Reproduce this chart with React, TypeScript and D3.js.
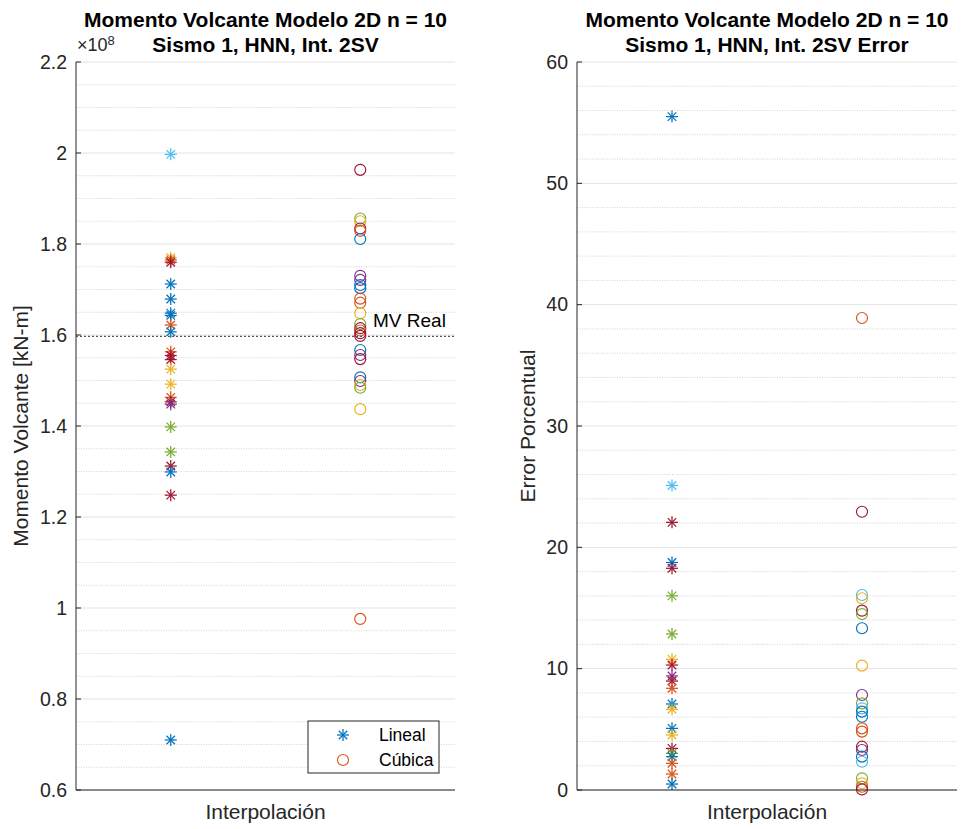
import React from 'react';
import * as d3 from 'd3';

// MATLAB default colour order
const PALETTE: Record<string, string> = {
  B: '#0072BD', O: '#D95319', Y: '#EDB120', P: '#7E2F8E', G: '#77AC30', LB: '#4DBEEE', R: '#A2142F',
};

// Left panel: Momento Volcante (x 1e8 kN-m)
const linealValues = [1.997, 1.770, 1.765, 1.760, 1.712, 1.679, 1.648, 1.643, 1.622, 1.607, 1.563, 1.555, 1.546, 1.525, 1.492, 1.463, 1.453, 1.448, 1.398, 1.343, 1.312, 1.299, 1.248, 0.710];
const linealColors = ['LB', 'Y', 'O', 'R', 'B', 'B', 'B', 'B', 'O', 'B', 'O', 'R', 'R', 'Y', 'Y', 'O', 'R', 'P', 'G', 'G', 'R', 'B', 'R', 'B'];
const cubicaValues = [1.963, 1.856, 1.850, 1.834, 1.829, 1.811, 1.730, 1.721, 1.710, 1.703, 1.680, 1.671, 1.648, 1.624, 1.615, 1.610, 1.604, 1.598, 1.567, 1.556, 1.547, 1.507, 1.499, 1.490, 1.484, 1.437, 0.976];
const cubicaColors = ['R', 'G', 'Y', 'R', 'O', 'B', 'P', 'P', 'B', 'B', 'O', 'O', 'Y', 'G', 'R', 'O', 'R', 'R', 'B', 'P', 'R', 'B', 'P', 'Y', 'G', 'Y', 'O'];
const mvReal = 1.597;

// Right panel: Error Porcentual
const linealErrors = [55.5, 25.1, 22.06, 18.75, 18.27, 16.0, 12.86, 10.77, 10.3, 9.4, 8.98, 8.38, 7.09, 6.65, 5.08, 4.53, 3.43, 3.02, 2.75, 2.2, 1.32, 0.49];
const linealErrorColors = ['B', 'LB', 'R', 'B', 'R', 'G', 'G', 'Y', 'R', 'P', 'R', 'O', 'B', 'Y', 'B', 'Y', 'R', 'G', 'B', 'O', 'O', 'B'];
const cubicaErrors = [38.9, 22.93, 16.07, 15.8, 14.78, 14.5, 13.33, 10.25, 7.83, 7.14, 6.73, 6.46, 6.04, 5.08, 4.81, 3.57, 3.30, 2.75, 2.33, 0.96, 0.55, 0.27, 0.05];
const cubicaErrorColors = ['O', 'R', 'LB', 'Y', 'R', 'G', 'B', 'Y', 'P', 'G', 'LB', 'B', 'B', 'O', 'O', 'R', 'P', 'B', 'LB', 'G', 'Y', 'O', 'R'];

const leftTicks = [0.6, 0.8, 1, 1.2, 1.4, 1.6, 1.8, 2, 2.2];
const rightTicks = [0, 10, 20, 30, 40, 50, 60];
const titleLine1 = 'Momento Volcante Modelo 2D n = 10';
const leftTitle2 = 'Sismo 1, HNN, Int. 2SV';
const rightTitle2 = 'Sismo 1, HNN, Int. 2SV Error';
const xLabel = 'Interpolación';
const leftYLabel = 'Momento Volcante [kN-m]';
const rightYLabel = 'Error Porcentual';
const legendLabels = ['Lineal', 'Cúbica'];

const FONT = 'Liberation Sans, Arial, Helvetica, sans-serif';
const AX = '#262626';

function Star({ x, y, color, r = 6 }: { x: number; y: number; color: string; r?: number }) {
  const d = r * Math.SQRT1_2;
  return (
    <g stroke={color} strokeWidth={1.25} fill="none">
      <line x1={x - r} y1={y} x2={x + r} y2={y} />
      <line x1={x} y1={y - r} x2={x} y2={y + r} />
      <line x1={x - d} y1={y - d} x2={x + d} y2={y + d} />
      <line x1={x - d} y1={y + d} x2={x + d} y2={y - d} />
    </g>
  );
}

function Circle({ x, y, color }: { x: number; y: number; color: string }) {
  return <circle cx={x} cy={y} r={5.5} fill="none" stroke={color} strokeWidth={1.15} />;
}

type PanelProps = {
  x0: number; x1: number; y0: number; y1: number;
  domain: [number, number]; ticks: number[]; minorStep: number;
  starVals: number[]; starCols: string[]; circVals: number[]; circCols: string[];
  title2: string; yLabel: string; yLabelX: number; children?: React.ReactNode;
};

function Panel(p: PanelProps) {
  const y = d3.scaleLinear().domain(p.domain).range([p.y1, p.y0]);
  const x = d3.scaleLinear().domain([0.5, 2.5]).range([p.x0, p.x1]);
  const minor = d3.range(p.domain[0], p.domain[1] + 1e-9, p.minorStep).filter(
    (v) => !p.ticks.some((t) => Math.abs(t - v) < 1e-9)
  );
  const cx = (p.x0 + p.x1) / 2;
  return (
    <g>
      {minor.map((v, i) => (
        <line key={'m' + i} x1={p.x0} x2={p.x1} y1={y(v)} y2={y(v)} stroke="#d2d2d2" strokeWidth={1} strokeDasharray="1,1.5" />
      ))}
      {p.ticks.map((v, i) => (
        <line key={'g' + i} x1={p.x0} x2={p.x1} y1={y(v)} y2={y(v)} stroke="#e3e3e3" strokeWidth={1} />
      ))}
      {p.starVals.map((v, i) => (
        <Star key={'s' + i} x={x(1)} y={y(v)} color={PALETTE[p.starCols[i]]} />
      ))}
      {p.circVals.map((v, i) => (
        <Circle key={'c' + i} x={x(2)} y={y(v)} color={PALETTE[p.circCols[i]]} />
      ))}
      <line x1={p.x0} x2={p.x0} y1={p.y0} y2={p.y1} stroke={AX} strokeWidth={1} />
      <line x1={p.x0} x2={p.x1} y1={p.y1} y2={p.y1} stroke={AX} strokeWidth={1} />
      {p.ticks.map((v, i) => (
        <g key={'t' + i}>
          <line x1={p.x0} x2={p.x0 + 5} y1={y(v)} y2={y(v)} stroke={AX} strokeWidth={1} />
          <text x={p.x0 - 9} y={y(v)} dy="0.35em" textAnchor="end" fontSize={19.5} fill={AX} fontFamily={FONT}>
            {String(v)}
          </text>
        </g>
      ))}
      <text x={cx} y={27} textAnchor="middle" fontSize={21} fontWeight="bold" fill="#000" fontFamily={FONT}>{titleLine1}</text>
      <text x={cx} y={52} textAnchor="middle" fontSize={21} fontWeight="bold" fill="#000" fontFamily={FONT}>{p.title2}</text>
      <text x={cx} y={819} textAnchor="middle" fontSize={21} fill={AX} fontFamily={FONT}>{xLabel}</text>
      <text transform={`translate(${p.yLabelX},426) rotate(-90)`} textAnchor="middle" fontSize={21} fill={AX} fontFamily={FONT}>{p.yLabel}</text>
      {p.children}
    </g>
  );
}

export default function App() {
  const L = { x0: 76, x1: 455, y0: 62, y1: 790 };
  const R = { x0: 577, x1: 957, y0: 62, y1: 790 };
  const yL = d3.scaleLinear().domain([0.6, 2.2]).range([L.y1, L.y0]);
  return (
    <svg width={961} height={829} style={{ position: 'absolute', left: 0, top: 0, background: '#fff' }}>
      <rect width={961} height={829} fill="#fff" />
      <Panel {...L} domain={[0.6, 2.2]} ticks={leftTicks} minorStep={0.05}
        starVals={linealValues} starCols={linealColors} circVals={cubicaValues} circCols={cubicaColors}
        title2={leftTitle2} yLabel={leftYLabel} yLabelX={28}>
        <line x1={L.x0} x2={L.x1} y1={yL(mvReal)} y2={yL(mvReal)} stroke="#555" strokeWidth={1.3} strokeDasharray="2,2" />
        <text x={373} y={yL(mvReal) - 9} fontSize={19} fill="#000" fontFamily={FONT}>MV Real</text>
        <text x={77} y={51} fontSize={18} fill={AX} fontFamily={FONT}>×10<tspan fontSize={13} dy={-6}>8</tspan></text>
        <g>
          <rect x={308} y={721} width={131} height={52} fill="#fff" stroke={AX} strokeWidth={1} />
          <Star x={343} y={735} color={PALETTE.B} />
          <text x={379} y={741} fontSize={17.5} fill="#000" fontFamily={FONT}>{legendLabels[0]}</text>
          <Circle x={343} y={760} color={PALETTE.O} />
          <text x={379} y={766} fontSize={17.5} fill="#000" fontFamily={FONT}>{legendLabels[1]}</text>
        </g>
      </Panel>
      <Panel {...R} domain={[0, 60]} ticks={rightTicks} minorStep={2}
        starVals={linealErrors} starCols={linealErrorColors} circVals={cubicaErrors} circCols={cubicaErrorColors}
        title2={rightTitle2} yLabel={rightYLabel} yLabelX={535} />
    </svg>
  );
}
